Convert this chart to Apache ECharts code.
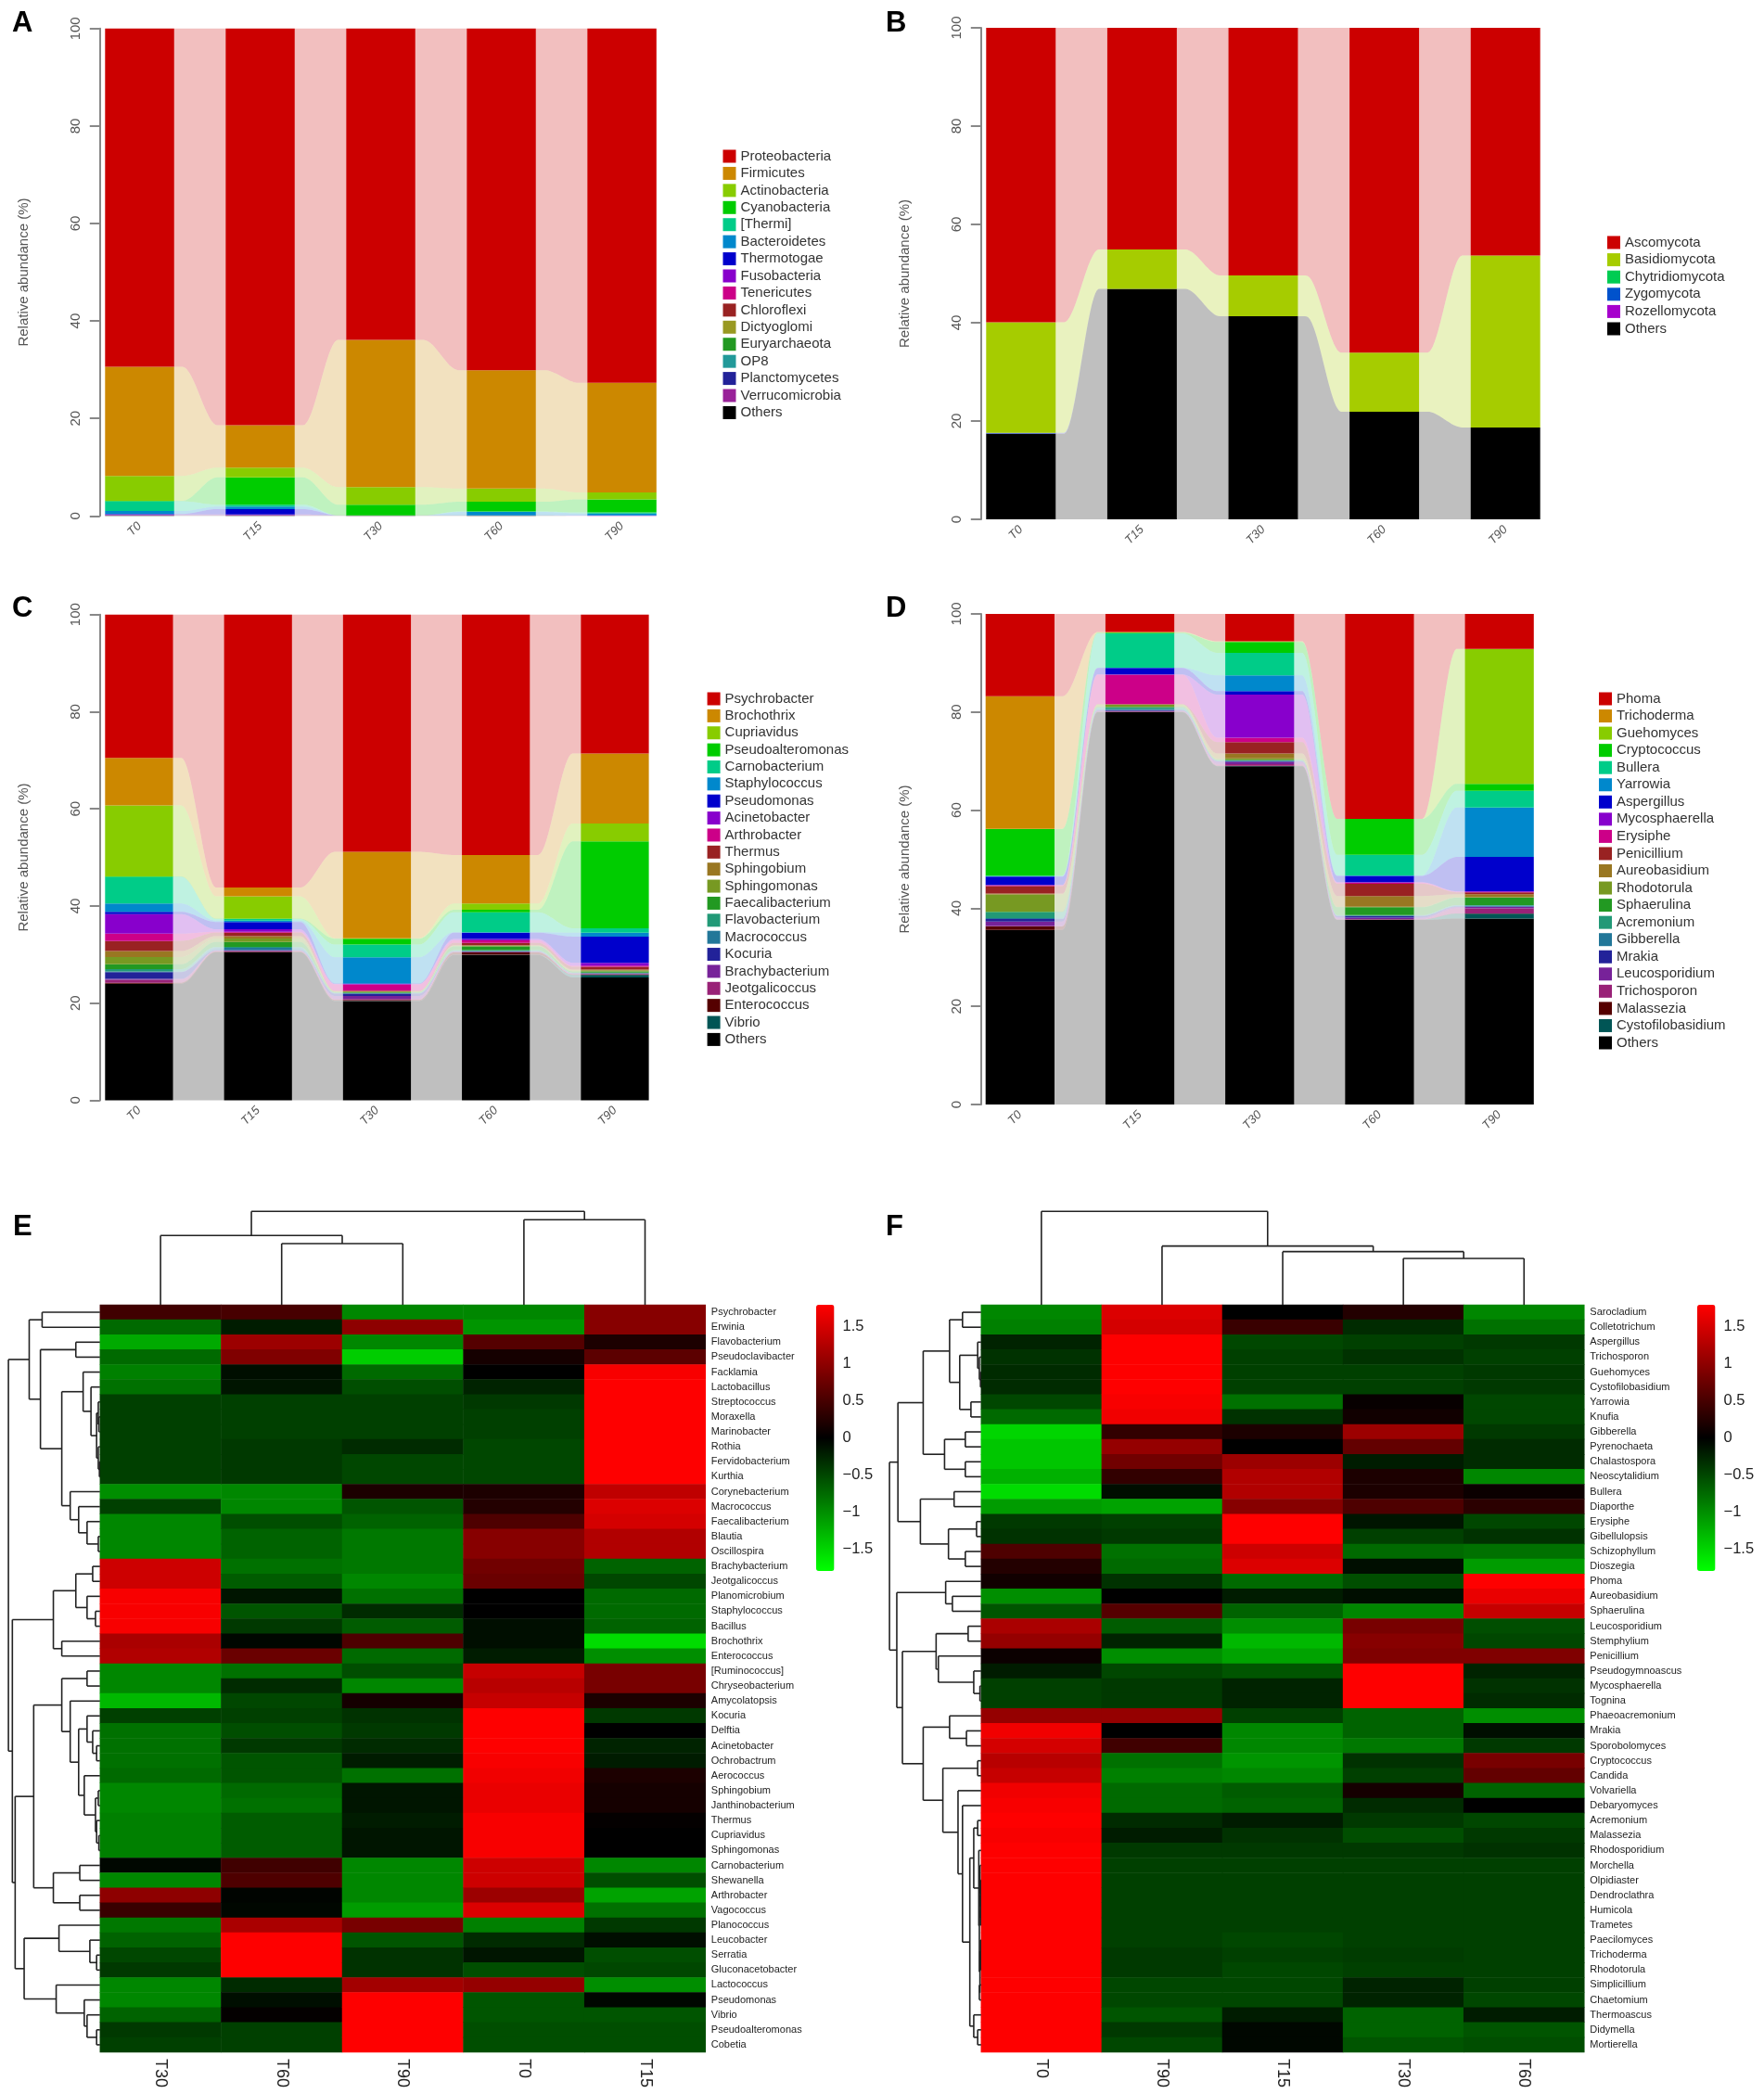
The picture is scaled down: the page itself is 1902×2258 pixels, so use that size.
<!DOCTYPE html>
<html>
<head>
<meta charset="utf-8">
<style>
  html, body { margin: 0; background: #fff; }
  #chart { width: 1902px; height: 2258px; }
</style>
<script src="https://cdn.jsdelivr.net/npm/echarts@6/dist/echarts.min.js"></script>
</head>
<body>
<div id="chart"></div>
<script>
const times = ['T0', 'T15', 'T30', 'T60', 'T90'];

// A: bacterial phyla, % per sample, in legend order
const aNames = ['Proteobacteria', 'Firmicutes', 'Actinobacteria', 'Cyanobacteria', '[Thermi]', 'Bacteroidetes', 'Thermotogae', 'Fusobacteria', 'Tenericutes', 'Chloroflexi', 'Dictyoglomi', 'Euryarchaeota', 'OP8', 'Planctomycetes', 'Verrucomicrobia', 'Others'];
const aT0 = [69.4, 22.4, 5.1, 0.1, 2.0, 0.6, 0.1, 0.1, 0, 0, 0, 0, 0, 0, 0.1, 0.1];
const aT15 = [81.4, 8.7, 2.0, 5.6, 0.4, 0.5, 1.1, 0.1, 0, 0, 0, 0, 0, 0, 0.1, 0.1];
const aT30 = [63.9, 30.2, 3.6, 2.2, 0, 0, 0, 0, 0, 0, 0, 0, 0, 0, 0, 0.1];
const aT60 = [70.1, 24.3, 2.7, 2.0, 0.1, 0.7, 0, 0, 0, 0, 0, 0, 0, 0, 0, 0.1];
const aT90 = [72.7, 22.5, 1.4, 2.7, 0.2, 0.4, 0.05, 0.05, 0, 0, 0, 0, 0, 0, 0, 0];

// B: fungal phyla
const bNames = ['Ascomycota', 'Basidiomycota', 'Chytridiomycota', 'Zygomycota', 'Rozellomycota', 'Others'];
const bT0 = [59.9, 22.5, 0, 0.15, 0.05, 17.4];
const bT15 = [45.1, 8.0, 0, 0, 0, 46.9];
const bT30 = [50.4, 8.3, 0, 0, 0, 41.3];
const bT60 = [66.1, 12.0, 0, 0, 0, 21.9];
const bT90 = [46.3, 35.0, 0, 0, 0, 18.7];

// C: bacterial genera
const cNames = ['Psychrobacter', 'Brochothrix', 'Cupriavidus', 'Pseudoalteromonas', 'Carnobacterium', 'Staphylococcus', 'Pseudomonas', 'Acinetobacter', 'Arthrobacter', 'Thermus', 'Sphingobium', 'Sphingomonas', 'Faecalibacterium', 'Flavobacterium', 'Macrococcus', 'Kocuria', 'Brachybacterium', 'Jeotgalicoccus', 'Enterococcus', 'Vibrio', 'Others'];
const cT0 = [29.5, 9.8, 14.6, 0.1, 5.5, 1.7, 0.5, 4.0, 1.5, 2.1, 1.2, 1.5, 1.0, 0.5, 0.1, 1.4, 0.2, 0.6, 0.2, 0, 24.0];
const cT15 = [56.2, 1.8, 4.6, 0.1, 0.3, 0.3, 1.5, 0.5, 0.2, 0.7, 0.5, 0.7, 1.0, 0.2, 0.5, 0.1, 0.1, 0.1, 0.1, 0, 30.5];
const cT30 = [48.85, 17.8, 0.1, 1.2, 2.6, 5.4, 0.1, 0.1, 1.3, 0.1, 0.1, 0.1, 0.1, 0.1, 0.1, 0.5, 0.6, 0.2, 0.2, 0.05, 20.4];
const cT60 = [49.5, 10.0, 1.3, 0.5, 4.1, 0.1, 1.3, 0.3, 0.5, 0.5, 0.1, 0.1, 0.8, 0.2, 0.05, 0.05, 0.05, 0.1, 0.5, 0.05, 29.9];
const cT90 = [28.6, 14.4, 3.7, 17.9, 0.9, 0.8, 5.4, 0.6, 0.2, 0.6, 0.2, 0.2, 0.2, 0.1, 0.05, 0.05, 0.1, 0.1, 0.1, 0.5, 25.3];

// D: fungal genera
const dNames = ['Phoma', 'Trichoderma', 'Guehomyces', 'Cryptococcus', 'Bullera', 'Yarrowia', 'Aspergillus', 'Mycosphaerella', 'Erysiphe', 'Penicillium', 'Aureobasidium', 'Rhodotorula', 'Sphaerulina', 'Acremonium', 'Gibberella', 'Mrakia', 'Leucosporidium', 'Trichosporon', 'Malassezia', 'Cystofilobasidium', 'Others'];
const dT0 = [16.8, 27.0, 0.05, 9.5, 0.1, 0.1, 1.7, 0.05, 0.2, 1.5, 0.2, 3.5, 0.1, 1.2, 0.2, 0.5, 0.9, 0.1, 0.7, 0, 35.6];
const dT15 = [3.7, 0.05, 0.1, 0.15, 7.0, 0.05, 1.3, 0.05, 6.0, 0.05, 0.1, 0.4, 0.1, 0.4, 0.2, 0.1, 0.1, 0.1, 0.05, 0.05, 79.95];
const dT30 = [5.6, 0.05, 0.1, 2.2, 4.6, 3.2, 0.7, 8.8, 0.9, 2.3, 1.0, 0.3, 0.1, 0.1, 0.1, 0.1, 0.5, 0.3, 0.05, 0.05, 68.95];
const dT60 = [41.8, 0, 0, 7.3, 4.2, 0.1, 1.3, 0.1, 0.2, 2.5, 2.2, 0.1, 1.6, 0.1, 0.1, 0.3, 0.3, 0.1, 0.05, 0.05, 37.6];
const dT90 = [7.15, 0, 27.5, 1.4, 3.4, 10.1, 7.0, 0.1, 0.1, 0.4, 0.6, 0.1, 1.5, 0.1, 0.2, 0.1, 0.3, 1.0, 0.05, 1.0, 37.9];

const aColors = ['#CC0000', '#CC8800', '#88CC00', '#00CC00', '#00CC88', '#0088CC', '#0000CC', '#8800CC', '#CC0088', '#992222', '#999922', '#229922', '#229999', '#222299', '#992299', '#000000'];
const bColors = ['#CC0000', '#A6CC00', '#00CC52', '#0052CC', '#A600CC', '#000000'];
const cdColors = ['#CC0000', '#CC8800', '#88CC00', '#00CC00', '#00CC88', '#0088CC', '#0000CC', '#8800CC', '#CC0088', '#992222', '#997722', '#779922', '#229922', '#229977', '#227799', '#222299', '#772299', '#992277', '#550000', '#005555', '#000000'];

// E: z-scores, columns T30 T60 T90 T0 T15
const eColumns = ['T30', 'T60', 'T90', 'T0', 'T15'];
const eRows = ['Psychrobacter', 'Erwinia', 'Flavobacterium', 'Pseudoclavibacter', 'Facklamia', 'Lactobacillus', 'Streptococcus', 'Moraxella', 'Marinobacter', 'Rothia', 'Fervidobacterium', 'Kurthia', 'Corynebacterium', 'Macrococcus', 'Faecalibacterium', 'Blautia', 'Oscillospira', 'Brachybacterium', 'Jeotgalicoccus', 'Planomicrobium', 'Staphylococcus', 'Bacillus', 'Brochothrix', 'Enterococcus', '[Ruminococcus]', 'Chryseobacterium', 'Amycolatopsis', 'Kocuria', 'Delftia', 'Acinetobacter', 'Ochrobactrum', 'Aerococcus', 'Sphingobium', 'Janthinobacterium', 'Thermus', 'Cupriavidus', 'Sphingomonas', 'Carnobacterium', 'Shewanella', 'Arthrobacter', 'Vagococcus', 'Planococcus', 'Leucobacter', 'Serratia', 'Gluconacetobacter', 'Lactococcus', 'Pseudomonas', 'Vibrio', 'Pseudoalteromonas', 'Cobetia'];
const eT30 = [0.45, -0.75, -1.2, -0.75, -0.9, -0.8, -0.45, -0.45, -0.45, -0.45, -0.45, -0.45, -1.0, -0.45, -0.95, -0.95, -0.95, 1.45, 1.45, 1.75, 1.75, 1.75, 1.2, 1.25, -0.95, -0.95, -1.3, -0.45, -0.8, -0.8, -0.8, -0.75, -0.95, -0.95, -0.9, -0.9, -0.9, -0.05, -0.95, 1.0, 0.4, -0.85, -0.7, -0.5, -0.4, -0.95, -0.95, -0.7, -0.4, -0.45];
const eT60 = [0.5, -0.2, 1.1, 0.9, -0.1, -0.15, -0.45, -0.45, -0.45, -0.4, -0.4, -0.4, -0.95, -0.95, -0.55, -0.7, -0.7, -0.8, -0.65, -0.15, -0.6, -0.4, -0.05, 0.75, -0.8, -0.3, -0.5, -0.45, -0.55, -0.4, -0.6, -0.6, -0.75, -0.8, -0.65, -0.65, -0.65, 0.45, 0.55, -0.03, -0.05, 1.2, 1.79, 1.79, 1.79, -0.3, -0.1, 0.03, -0.45, -0.45];
const eT90 = [-0.95, 1.0, -0.95, -1.45, -0.75, -0.55, -0.45, -0.45, -0.45, -0.3, -0.5, -0.5, 0.2, -0.6, -0.7, -0.85, -0.85, -0.85, -0.95, -0.8, -0.3, -0.65, 0.55, -0.75, -0.55, -0.95, 0.15, -0.35, -0.4, -0.3, -0.2, -0.8, -0.15, -0.15, -0.2, -0.15, -0.15, -0.95, -0.95, -0.95, -1.1, 0.85, -0.6, -0.35, -0.35, 1.15, 1.79, 1.79, 1.79, 1.79];
const eT0 = [-0.95, -1.05, 0.6, 0.15, 0, -0.25, -0.4, -0.45, -0.45, -0.5, -0.5, -0.5, 0.2, 0.25, 0.55, 0.95, 0.95, 0.8, 0.75, 0, 0, -0.1, -0.1, -0.2, 1.4, 1.3, 1.4, 1.79, 1.79, 1.79, 1.75, 1.7, 1.65, 1.65, 1.75, 1.75, 1.75, 1.45, 1.45, 1.1, 1.55, -0.9, -0.3, -0.15, -0.55, 1.05, -0.6, -0.6, -0.55, -0.55];
const eT15 = [0.95, 0.95, 0.2, 0.65, 1.75, 1.79, 1.79, 1.79, 1.79, 1.79, 1.79, 1.79, 1.35, 1.55, 1.5, 1.25, 1.25, -0.7, -0.5, -0.75, -0.75, -0.7, -1.55, -1.0, 0.85, 0.85, 0.2, -0.4, 0, -0.25, -0.2, 0.2, 0.15, 0.15, 0.03, 0, 0, -0.95, -0.55, -1.15, -0.8, -0.4, -0.1, -0.55, -0.5, -1.0, -0.05, -0.6, -0.55, -0.55];

// F: z-scores, columns T0 T90 T15 T30 T60
const fColumns = ['T0', 'T90', 'T15', 'T30', 'T60'];
const fRows = ['Sarocladium', 'Colletotrichum', 'Aspergillus', 'Trichosporon', 'Guehomyces', 'Cystofilobasidium', 'Yarrowia', 'Knufia', 'Gibberella', 'Pyrenochaeta', 'Chalastospora', 'Neoscytalidium', 'Bullera', 'Diaporthe', 'Erysiphe', 'Gibellulopsis', 'Schizophyllum', 'Dioszegia', 'Phoma', 'Aureobasidium', 'Sphaerulina', 'Leucosporidium', 'Stemphylium', 'Penicillium', 'Pseudogymnoascus', 'Mycosphaerella', 'Tognina', 'Phaeoacremonium', 'Mrakia', 'Sporobolomyces', 'Cryptococcus', 'Candida', 'Volvariella', 'Debaryomyces', 'Acremonium', 'Malassezia', 'Rhodosporidium', 'Morchella', 'Olpidiaster', 'Dendroclathra', 'Humicola', 'Trametes', 'Paecilomyces', 'Trichoderma', 'Rhodotorula', 'Simplicillium', 'Chaetomium', 'Thermoascus', 'Didymella', 'Mortierella'];
const fT0 = [-0.95, -0.9, -0.25, -0.35, -0.3, -0.3, -0.5, -0.75, -1.5, -1.4, -1.4, -1.25, -1.55, -1.1, -0.4, -0.35, 0.55, 0.25, 0.12, -1.0, -0.6, 1.2, 1.05, 0.08, -0.2, -0.45, -0.45, 1.05, 1.7, 1.5, 1.3, 1.4, 1.7, 1.75, 1.79, 1.75, 1.79, 1.79, 1.79, 1.79, 1.79, 1.79, 1.79, 1.79, 1.79, 1.79, 1.79, 1.79, 1.79, 1.79];
const fT90 = [1.55, 1.5, 1.79, 1.79, 1.79, 1.79, 1.75, 1.7, 0.35, 1.05, 0.8, 0.35, -0.1, -1.15, -0.45, -0.4, -0.8, -0.75, -0.35, 0, 0.6, -0.65, -0.25, -1.0, -0.5, -0.4, -0.4, 1.05, 0, 0.45, -0.8, -0.9, -0.75, -0.75, -0.3, -0.2, -0.4, -0.45, -0.45, -0.45, -0.45, -0.45, -0.45, -0.4, -0.4, -0.5, -0.5, -0.6, -0.4, -0.5];
const fT15 = [0, 0.4, -0.5, -0.45, -0.45, -0.45, -0.8, -0.35, 0.2, 0, 1.1, 1.25, 1.25, 0.95, 1.79, 1.79, 1.45, 1.55, -0.75, -0.2, -0.7, -1.0, -1.3, -1.15, -0.6, -0.25, -0.25, -0.45, -0.95, -0.95, -1.05, -0.95, -0.65, -0.7, -0.2, -0.35, -0.4, -0.45, -0.45, -0.45, -0.45, -0.45, -0.5, -0.45, -0.5, -0.5, -0.5, -0.2, -0.05, -0.05];
const fT30 = [0.25, -0.3, -0.45, -0.35, -0.45, -0.45, 0.05, 0.12, 1.1, 0.7, -0.2, 0.2, 0.2, 0.55, -0.15, -0.45, -0.75, -0.1, -0.55, -0.1, -0.95, 0.85, 0.95, 0.9, 1.79, 1.79, 1.79, -0.7, -0.7, -0.85, -0.35, -0.45, 0.15, -0.3, -0.4, -0.55, -0.4, -0.45, -0.45, -0.45, -0.45, -0.45, -0.45, -0.42, -0.45, -0.25, -0.25, -0.7, -0.7, -0.6];
const fT60 = [-0.95, -0.8, -0.4, -0.45, -0.4, -0.4, -0.5, -0.5, -0.4, -0.3, -0.3, -0.95, 0.08, 0.3, -0.5, -0.35, -0.8, -1.1, 1.79, 1.65, 1.4, -0.55, -0.5, 0.9, -0.25, -0.35, -0.3, -1.0, -0.1, -0.4, 0.85, 0.7, -0.7, 0, -0.5, -0.4, -0.35, -0.45, -0.45, -0.45, -0.45, -0.45, -0.45, -0.45, -0.45, -0.45, -0.5, -0.2, -0.6, -0.55];

// Dendrograms: [merge height, child, child], a number is a 1-based leaf position
const eColTree = [302, [224, 1, [198, 2, 3]], [275, 4, 5]];
const fColTree = [302, 1, [190, 2, [172, 3, [150, 4, 5]]]];
const eRowTree = [163,
  [126, [103, 1, 2], [106, [43, 3, 4], [68, [30, 5, [16, 6, [6, [3, 7, [2, 8, 9]], [3, 10, [1, 11, 12]]]]], [53, 13, [38, 14, [23, 15, [3, 16, 17]]]]]]],
  [156,
    [83, [43, [13, 18, 19], [23, 20, [8, 21, 22]]], [68, 23, 24]],
    [151,
      [118, [68, [23, 25, 26], [53, 27, [38, [23, 28, [13, 29, [6, 30, 31]]], [28, 32, [8, [3, 33, 34], [6, 35, [2, 36, 37]]]]]]], [83, [36, 38, 39], [36, 40, 41]]],
      [135, [73, 42, [18, 43, [6, 44, 45]]], [78, 46, [28, 47, [23, 48, [6, 49, 50]]]]]]]];
const fRowTree = [163,
  [148, [103, [56, [33, 1, 2], [38, [6, 3, [3, 4, [1, 5, 6]]], [18, 7, 8]]], [65, [28, 9, 10], [28, 11, 12]]], [108, [48, 13, 14], [58, [8, 15, 16], [28, 17, 18]]]],
  [150,
    [63, 19, [51, 20, 21]],
    [140,
      [80, [23, 22, 23], [76, 24, [13, 25, [2, 26, 27]]]],
      [103, [56, 28, [26, 29, 30]], [68, [6, 31, 32], [41, 33, [33, 34, [20, [13, [6, 35, 36], [4, 37, [3, [2, 38, [1, 39, [1, 40, [1, 41, 42]]]], [2, [1, 43, [1, 44, 45]], [3, 46, 47]]]]], [13, 48, [6, 49, 50]]]]]]]]]];

const colorbarTicks = [-1.5, -1, -0.5, 0, 0.5, 1, 1.5];

const FONT = '"Liberation Sans", Arial, sans-serif';
const GREY = '#555';

const option = {
  backgroundColor: '#fff',
  animation: false,
  textStyle: { fontFamily: FONT },
  title: [], grid: [], xAxis: [], yAxis: [], legend: [], visualMap: [], series: []
};

function letter(text, left, top) {
  option.title.push({ text, left, top, padding: 0, textStyle: { fontFamily: FONT, fontSize: 31, fontWeight: 'bold', color: '#000' } });
}

// stacked bars plus the pale ribbons that join neighbouring bars
function addBarPanel(names, colors, columns, box) {
  const g = option.grid.length;
  const gridLeft = box.barLeft - (box.band - box.barW) / 2;
  option.grid.push({ left: gridLeft, top: box.top, width: box.band * 5, height: box.bottom - box.top });
  option.xAxis.push({
    type: 'category', gridIndex: g, data: times,
    axisLine: { show: false }, axisTick: { show: false },
    axisLabel: { rotate: 45, margin: 9, fontSize: 13, fontStyle: 'italic', color: GREY }
  });
  option.yAxis.push({
    type: 'value', gridIndex: g, min: 0, max: 100, interval: 20,
    offset: gridLeft - box.axisX,
    name: 'Relative abundance (%)', nameLocation: 'middle', nameGap: 74, nameRotate: 90,
    nameTextStyle: { fontSize: 15, color: GREY },
    axisLine: { show: true, lineStyle: { color: '#888', width: 2 } },
    axisTick: { show: true, length: 11, lineStyle: { color: '#888', width: 2 } },
    axisLabel: { rotate: 90, margin: 26, fontSize: 15, color: GREY, align: 'center', verticalAlign: 'middle' },
    splitLine: { show: false }
  });

  // bars: first series sits at the bottom of the stack, so go through the legend backwards
  for (let l = names.length - 1; l >= 0; l--) {
    option.series.push({
      type: 'bar', name: names[l], stack: 'p' + g, xAxisIndex: g, yAxisIndex: g,
      barWidth: box.barW, silent: true,
      itemStyle: { color: colors[l] },
      data: columns.map(c => c[l])
    });
  }

  // ribbons: [gap, layer, bottom left, top left, bottom right, top right]
  const bottoms = columns.map(c => {
    const out = []; let run = 0;
    for (let l = names.length - 1; l >= 0; l--) { out[l] = run; run += c[l]; }
    return out;
  });
  const ribbons = [];
  for (let i = 0; i < columns.length - 1; i++) {
    names.forEach((n, l) => {
      if (columns[i][l] + columns[i + 1][l] < 0.02) return;
      ribbons.push([i, l, bottoms[i][l], bottoms[i][l] + columns[i][l], bottoms[i + 1][l], bottoms[i + 1][l] + columns[i + 1][l]]);
    });
  }
  const ease = t => {
    const u = Math.min(1, Math.max(0, (t - 0.16) / 0.68));
    return u * u * (3 - 2 * u);
  };
  option.series.push({
    type: 'custom', xAxisIndex: g, yAxisIndex: g, silent: true, data: ribbons,
    renderItem(params, api) {
      const i = api.value(0), l = api.value(1);
      const x0 = api.coord([i, 0])[0] + box.barW / 2;
      const x1 = api.coord([i + 1, 0])[0] - box.barW / 2;
      const top = [], bot = [];
      for (let k = 0; k <= 30; k++) {
        const t = k / 30, s = ease(t), x = x0 + (x1 - x0) * t;
        const lo = api.value(2) + (api.value(4) - api.value(2)) * s;
        const hi = api.value(3) + (api.value(5) - api.value(3)) * s;
        top.push([x, api.coord([0, hi])[1]]);
        bot.unshift([x, api.coord([0, lo])[1]]);
      }
      return { type: 'polygon', shape: { points: top.concat(bot) }, style: { fill: colors[l], opacity: 0.25 } };
    }
  });

  option.legend.push({
    data: names, orient: 'vertical', left: box.legendX, top: box.legendY, padding: 0,
    itemWidth: 14, itemHeight: 14, itemGap: box.legendGap, selectedMode: false, icon: 'rect',
    textStyle: { fontSize: 15, color: '#333', fontFamily: FONT }
  });
}

function treeSegments(tree) {
  const segs = [];
  (function walk(node) {
    if (typeof node === 'number') return { pos: node - 0.5, h: 0 };
    const a = walk(node[1]), b = walk(node[2]), h = node[0];
    segs.push([a.h, a.pos, h, a.pos], [b.h, b.pos, h, b.pos], [h, a.pos, h, b.pos]);
    return { pos: (a.pos + b.pos) / 2, h };
  })(tree);
  return segs;
}

function addDendrogram(segs, rect, horizontal, xAxisOpt, yAxisOpt) {
  const g = option.grid.length;
  option.grid.push(rect);
  option.xAxis.push(Object.assign({ type: 'value', gridIndex: g, show: false }, xAxisOpt));
  option.yAxis.push(Object.assign({ type: 'value', gridIndex: g, show: false }, yAxisOpt));
  option.series.push({
    type: 'custom', xAxisIndex: g, yAxisIndex: g, silent: true, data: segs,
    renderItem(params, api) {
      const p = horizontal
        ? [api.coord([api.value(0), api.value(1)]), api.coord([api.value(2), api.value(3)])]
        : [api.coord([api.value(1), api.value(0)]), api.coord([api.value(3), api.value(2)])];
      return { type: 'line', shape: { x1: p[0][0], y1: p[0][1], x2: p[1][0], y2: p[1][1] }, style: { stroke: '#222', lineWidth: 1.6 } };
    }
  });
}

function addHeatPanel(columns, rows, values, colTree, rowTree, box) {
  const g = option.grid.length;
  option.grid.push({ left: box.left, top: box.top, width: box.width, height: box.height });
  option.xAxis.push({
    type: 'category', gridIndex: g, data: columns, position: 'bottom',
    axisLine: { show: false }, axisTick: { show: false }, splitLine: { show: false },
    axisLabel: { rotate: -90, margin: 7, fontSize: 18, color: '#222' }
  });
  option.yAxis.push({
    type: 'category', gridIndex: g, data: rows, inverse: true, position: 'right',
    axisLine: { show: false }, axisTick: { show: false }, splitLine: { show: false },
    axisLabel: { interval: 0, margin: 6, fontSize: 11, color: '#222' }
  });
  const cells = [];
  values.forEach((col, x) => col.forEach((v, y) => cells.push([x, y, v])));
  const sIdx = option.series.length;
  option.series.push({ type: 'heatmap', xAxisIndex: g, yAxisIndex: g, silent: true, data: cells, progressive: 0 });
  option.visualMap.push({
    type: 'continuous', seriesIndex: sIdx, min: -1.8, max: 1.8, calculable: false, hoverLink: false,
    left: box.barX, top: box.top, itemWidth: box.barW, itemHeight: box.barH, padding: 0, text: null, showLabel: false,
    inRange: { color: ['#00FF00', '#000000', '#FF0000'] }
  });

  // colour key labels come from a bare axis next to the key
  const k = option.grid.length;
  option.grid.push({ left: box.barX + box.barW, top: box.top, width: 1, height: box.barH });
  option.xAxis.push({ type: 'value', gridIndex: k, show: false });
  option.yAxis.push({
    type: 'value', gridIndex: k, min: -1.8, max: 1.8, position: 'left', offset: -1,
    axisLine: { show: false }, axisTick: { show: false }, splitLine: { show: false },
    axisLabel: { customValues: colorbarTicks, inside: true, margin: 8, fontSize: 16.5, color: '#222', formatter: v => String(v).replace('-', '\u2212') }
  });

  addDendrogram(treeSegments(colTree),
    { left: box.left, top: box.top - 100.7, width: box.width, height: 100.7 }, false,
    { min: 0, max: 5 }, { min: 0, max: 302 });
  addDendrogram(treeSegments(rowTree),
    { left: box.left - 107.8, top: box.top, width: 107.8, height: box.height }, true,
    { min: 0, max: 178, inverse: true }, { min: 0, max: 50, inverse: true });
}

letter('A', 13, 10);
letter('B', 955, 10);
letter('C', 13, 641);
letter('D', 955, 641);
letter('E', 14, 1308);
letter('F', 955, 1308);

addBarPanel(aNames, aColors, [aT0, aT15, aT30, aT60, aT90],
  { barLeft: 113.3, band: 130, barW: 74.5, top: 30.8, bottom: 556.3, axisX: 107.8, legendX: 779.5, legendY: 161, legendGap: 3.43 });
addBarPanel(bNames, bColors, [bT0, bT15, bT30, bT60, bT90],
  { barLeft: 1063.3, band: 130.6, barW: 75, top: 30, bottom: 560, axisX: 1057.8, legendX: 1733, legendY: 254, legendGap: 3.6 });
addBarPanel(cNames, cdColors, [cT0, cT15, cT30, cT60, cT90],
  { barLeft: 113.3, band: 128.25, barW: 73.3, top: 662.7, bottom: 1186.4, axisX: 107.8, legendX: 762.6, legendY: 746, legendGap: 3.37 });
addBarPanel(dNames, cdColors, [dT0, dT15, dT30, dT60, dT90],
  { barLeft: 1062.7, band: 129.2, barW: 74.3, top: 661.9, bottom: 1191, axisX: 1057.8, legendX: 1724, legendY: 746, legendGap: 3.55 });

addHeatPanel(eColumns, eRows, [eT30, eT60, eT90, eT0, eT15], eColTree, eRowTree,
  { left: 107.8, top: 1407, width: 653, height: 806, barX: 880, barW: 19.5, barH: 287 });
addHeatPanel(fColumns, fRows, [fT0, fT90, fT15, fT30, fT60], fColTree, fRowTree,
  { left: 1057.8, top: 1407, width: 650.5, height: 806, barX: 1830, barW: 19.5, barH: 287 });

const chart = echarts.init(document.getElementById('chart'), null, { renderer: 'canvas' });
chart.setOption(option);
</script>
</body>
</html>
